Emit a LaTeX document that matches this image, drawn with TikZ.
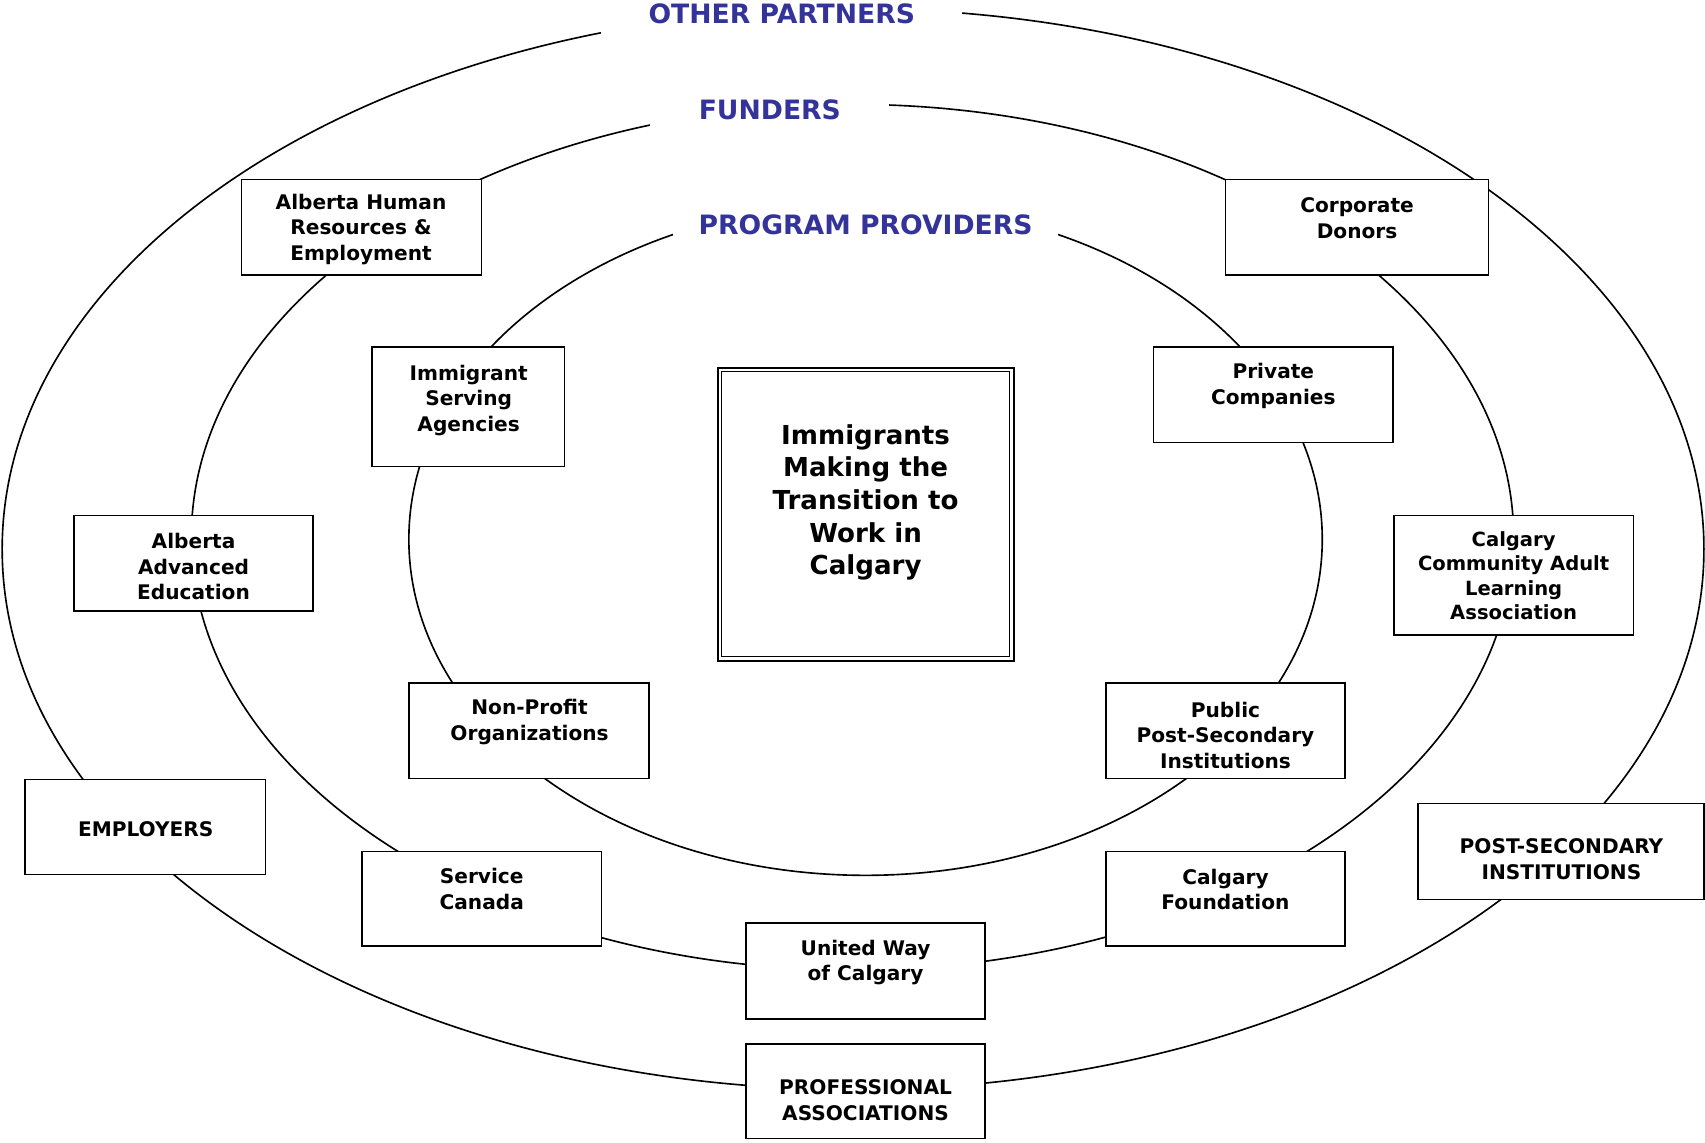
\documentclass[tikz,border=0pt]{standalone}
\usepackage{fontspec}
\setmainfont{DejaVu Sans}
\definecolor{ringblue}{RGB}{51,51,153}
\tikzset{
  ring/.style={line width=1.5pt},
  box/.style={draw, fill=white, line width=1.3pt, inner sep=0pt},
  boxtext/.style={align=center, inner sep=0pt, font=\bfseries\fontsize{18.5}{23.5}\selectfont},
  coretext/.style={align=center, inner sep=0pt, font=\bfseries\fontsize{24}{30}\selectfont},
  ringlabel/.style={fill=white, inner sep=0pt, minimum height=50pt, text=ringblue,
                    font=\bfseries\fontsize{24.5}{30}\selectfont},
}
\begin{document}
\begin{tikzpicture}[x=1pt,y=-1pt]
\useasboundingbox (0,0) rectangle (1568,1051);

% the three rings
\draw[ring] (784.5,505) ellipse [x radius=782.5pt, y radius=497pt];
\draw[ring] (784,494) ellipse [x radius=608pt, y radius=398pt];
\draw[ring] (796,496) ellipse [x radius=420pt, y radius=309pt];

% ring titles (their white background opens a gap in the ring)
\node[ringlabel, minimum width=332pt] (otherp) at (719,13) {OTHER PARTNERS};
\node[ringlabel, minimum width=220pt] (funders) at (708,101) {FUNDERS};
\node[ringlabel, minimum width=354pt] (providers) at (796,207) {PROGRAM PROVIDERS};

% centre: double framed box
\node[draw, line width=2pt, minimum width=272.4pt, minimum height=269.2pt] (core) at (796.3,473) {};
\node[draw, line width=1.2pt, minimum width=265pt, minimum height=262.4pt] (coreinner) at (795.9,472.8) {};
\node[coretext] (coret) at (796,462) {Immigrants\\Making the\\Transition to\\Work in\\Calgary};

% boxes on the rings
\node[box, minimum width=221pt, minimum height=88pt] (ahre) at (332.5,209) {};
\node[box, minimum width=177pt, minimum height=110pt] (isa) at (430.5,374) {};
\node[box, minimum width=242pt, minimum height=88pt] (cd) at (1248,209) {};
\node[box, minimum width=220pt, minimum height=88pt] (pc) at (1171,363) {};
\node[box, minimum width=220pt, minimum height=88pt] (aae) at (178,518) {};
\node[box, minimum width=220pt, minimum height=110pt] (ccala) at (1392,529) {};
\node[box, minimum width=221pt, minimum height=88pt] (npo) at (486.5,672) {};
\node[box, minimum width=220pt, minimum height=88pt] (ppsi) at (1127,672) {};
\node[box, minimum width=221pt, minimum height=87pt] (emp) at (133.5,760.5) {};
\node[box, minimum width=220pt, minimum height=87pt] (sc) at (443,826.5) {};
\node[box, minimum width=220pt, minimum height=87pt] (cf) at (1127,826.5) {};
\node[box, minimum width=220pt, minimum height=88pt] (uw) at (796,893) {};
\node[box, minimum width=263pt, minimum height=88pt] (psi) at (1435.5,783) {};
\node[box, minimum width=220pt, minimum height=87pt] (pa) at (796,1003.5) {};

% box texts
\node[boxtext] (ahre-t) at (332,211) {Alberta Human\\Resources \&\\Employment};
\node[boxtext] (isa-t) at (431,368) {Immigrant\\Serving\\Agencies};
\node[boxtext] (cd-t) at (1248,200.5) {Corporate\\Donors};
\node[boxtext] (pc-t) at (1171,355) {Private\\Companies};
\node[boxtext] (aae-t) at (178,521) {Alberta\\Advanced\\Education};
\node[boxtext, font=\bfseries\fontsize{18}{22.3}\selectfont] (ccala-t) at (1392,529.5) {Calgary\\Community Adult\\Learning\\Association};
\node[boxtext] (npo-t) at (487,664) {Non-Profit\\Organizations};
\node[boxtext] (ppsi-t) at (1127,676) {Public\\Post-Secondary\\Institutions};
\node[boxtext] (emp-t) at (134,763) {EMPLOYERS};
\node[boxtext] (sc-t) at (443,817.5) {Service\\Canada};
\node[boxtext] (cf-t) at (1127,818) {Calgary\\Foundation};
\node[boxtext] (uw-t) at (796,885) {United Way\\of Calgary};
\node[boxtext] (psi-t) at (1436,790) {POST-SECONDARY\\INSTITUTIONS};
\node[boxtext] (pa-t) at (796,1012) {PROFESSIONAL\\ASSOCIATIONS};
\end{tikzpicture}
\end{document}
